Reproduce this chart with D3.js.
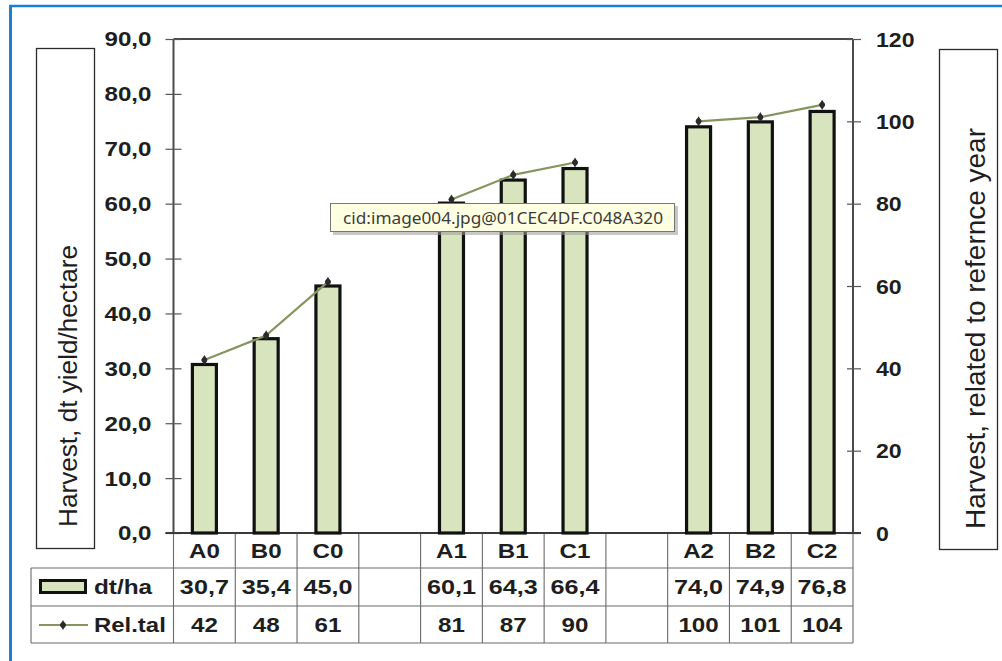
<!DOCTYPE html>
<html>
<head>
<meta charset="utf-8">
<script src="https://cdn.jsdelivr.net/npm/d3@7"></script>
<style>
  html, body { margin: 0; padding: 0; background: #fff; }
  svg { display: block; }
</style>
</head>
<body>
<svg id="chart" width="1002" height="661"></svg>
<script>
// Categories (null = empty spacer slot between the groups)
const categories = ["A0", "B0", "C0", null, "A1", "B1", "C1", null, "A2", "B2", "C2"];
// Harvest in dt/ha
const yieldValues = [30.7, 35.4, 45.0, null, 60.1, 64.3, 66.4, null, 74.0, 74.9, 76.8];
// Harvest relative to the reference year
const relValues = [42, 48, 61, null, 81, 87, 90, null, 100, 101, 104];
// Axis ticks
const leftTicks = [0, 10, 20, 30, 40, 50, 60, 70, 80, 90];
const rightTicks = [0, 20, 40, 60, 80, 100, 120];
// Labels
const leftTitle = "Harvest, dt yield/hectare";
const rightTitle = "Harvest, related to refernce year";
const seriesNames = ["dt/ha", "Rel.tal"];
const tooltipText = "cid:image004.jpg@01CEC4DF.C048A320";

const svg = d3.select("#chart");
const FONT = "'Liberation Sans', Arial, sans-serif";
const SX = 1.15;           // horizontal stretch of the label type
const BAR_FILL = "#d7e4bd";
const LINE_COL = "#86955f";
const TEXT_COL = "#1e1e1e";

const plot = { left: 173.5, right: 853, top: 39, bottom: 533 };
const rows = [533, 568, 606, 643];
const tableLeft = 31;

const x = d3.scaleBand().domain(d3.range(categories.length)).range([plot.left, plot.right]).padding(0);
const y = d3.scaleLinear().domain([0, 90]).range([plot.bottom, plot.top]);
const y2 = d3.scaleLinear().domain([0, 120]).range([plot.bottom, plot.top]);

// stretched bold label helper
function label(g, txt, px, py, anchor, opts = {}) {
  return g.append("text")
    .attr("transform", `translate(${px},${py}) scale(${opts.sx || SX},1)`)
    .attr("text-anchor", anchor)
    .attr("dominant-baseline", "central")
    .attr("font-family", FONT)
    .attr("font-weight", opts.weight || "bold")
    .attr("font-size", opts.size || 21)
    .attr("fill", TEXT_COL)
    .text(txt);
}

// series marker: small dark dot with a diamond point
function marker(g, px, py) {
  const m = g.append("g").attr("transform", `translate(${px},${py})`);
  m.append("path").attr("d", d3.symbol(d3.symbolDiamond, 30)).attr("fill", "#2b2b2b");
  m.append("circle").attr("r", 2.8).attr("fill", "#2b2b2b");
}

// blue frame (top and left edges)
svg.append("line").attr("x1", 10.5).attr("x2", 10.5).attr("y1", 5).attr("y2", 661)
  .attr("stroke", "#1c7fd6").attr("stroke-width", 3);
svg.append("line").attr("x1", 9).attr("x2", 1002).attr("y1", 6).attr("y2", 6)
  .attr("stroke", "#1c7fd6").attr("stroke-width", 2.5);

// axis title boxes
function titleBox(x0, y0, w, h, txt, bx, by, len, size) {
  svg.append("rect").attr("x", x0).attr("y", y0).attr("width", w).attr("height", h)
    .attr("fill", "#fff").attr("stroke", "#2a2a2a").attr("stroke-width", 1.3);
  svg.append("text")
    .attr("transform", `translate(${bx},${by}) rotate(-90)`)
    .attr("font-family", FONT).attr("font-size", size).attr("fill", TEXT_COL)
    .attr("textLength", len).attr("lengthAdjust", "spacingAndGlyphs")
    .text(txt);
}
titleBox(36.5, 48.5, 58, 500, leftTitle, 77, 527, 282, 26);
titleBox(939.5, 49.5, 58, 500, rightTitle, 985, 529, 401, 27);

// plot frame top line
svg.append("line").attr("x1", plot.left).attr("x2", plot.right).attr("y1", plot.top).attr("y2", plot.top)
  .attr("stroke", "#4a4a4a").attr("stroke-width", 2);

// left axis
const fmt = v => d3.format(".1f")(v).replace(".", ",");
const gL = svg.append("g").attr("transform", `translate(${plot.left},0)`)
  .call(d3.axisLeft(y).tickValues(leftTicks).tickFormat(fmt).tickSize(8).tickPadding(0));
gL.select(".domain").attr("stroke", "#4a4a4a").attr("stroke-width", 2).attr("d", `M0,${plot.top}V${plot.bottom}`);
gL.selectAll(".tick line").attr("x1", 8).attr("x2", -8).attr("stroke", "#555").attr("stroke-width", 1.2);
gL.selectAll(".tick text").remove();
gL.selectAll(".tick").each(function(d) {
  label(d3.select(this), fmt(d), -22, 0, "end");
});

// right axis
const gR = svg.append("g").attr("transform", `translate(${plot.right},0)`)
  .call(d3.axisRight(y2).tickValues(rightTicks).tickSize(7).tickPadding(0));
gR.select(".domain").attr("stroke", "#4a4a4a").attr("stroke-width", 2).attr("d", `M0,${plot.top}V${plot.bottom}`);
gR.selectAll(".tick line").attr("x1", -6).attr("x2", 8).attr("stroke", "#555").attr("stroke-width", 1.2);
gR.selectAll(".tick text").remove();
gR.selectAll(".tick").each(function(d) {
  label(d3.select(this), d, 23, 0, "start", { sx: 1.1 });
});

// data table grid
const grid = svg.append("g").attr("stroke", "#6a6a6a").attr("stroke-width", 1.1);
rows.slice(1).forEach(r => {
  grid.append("line").attr("x1", tableLeft).attr("x2", plot.right).attr("y1", r).attr("y2", r);
});
grid.append("line").attr("x1", tableLeft).attr("x2", tableLeft).attr("y1", rows[1]).attr("y2", rows[3]);
const bounds = x.domain().map(i => x(i)).concat([plot.right]);
bounds.forEach(bx => {
  grid.append("line").attr("x1", bx).attr("x2", bx).attr("y1", rows[0]).attr("y2", rows[3]);
});

// category axis line
svg.append("line").attr("x1", plot.left - 8).attr("x2", plot.right + 8).attr("y1", plot.bottom).attr("y2", plot.bottom)
  .attr("stroke", "#3a3a3a").attr("stroke-width", 2);

// bars
const barW = 24;
svg.append("g").selectAll("rect")
  .data(yieldValues.map((v, i) => ({ v, i })).filter(d => d.v != null))
  .join("rect")
  .attr("x", d => x(d.i) + x.bandwidth() / 2 - barW / 2)
  .attr("y", d => y(d.v))
  .attr("width", barW)
  .attr("height", d => y(0) - y(d.v))
  .attr("fill", BAR_FILL)
  .attr("stroke", "#111")
  .attr("stroke-width", 3.2);

// relative line
const lineGen = d3.line()
  .defined(d => d.v != null)
  .x(d => x(d.i) + x.bandwidth() / 2)
  .y(d => y2(d.v));
const relPts = relValues.map((v, i) => ({ v, i }));
svg.append("path").datum(relPts).attr("d", lineGen)
  .attr("fill", "none").attr("stroke", LINE_COL).attr("stroke-width", 2.2);
const gM = svg.append("g");
relPts.filter(d => d.v != null).forEach(d => marker(gM, x(d.i) + x.bandwidth() / 2, y2(d.v)));

// table text
const rowMid = [551, 587, 625];
categories.forEach((c, i) => {
  if (c == null) return;
  const cx = x(i) + x.bandwidth() / 2;
  label(svg, c, cx, rowMid[0], "middle");
  label(svg, fmt(yieldValues[i]), cx, rowMid[1], "middle", { sx: 1.2 });
  label(svg, relValues[i], cx, rowMid[2], "middle");
});

// legend keys in the row headers
svg.append("rect").attr("x", 40.5).attr("y", 580.5).attr("width", 45).attr("height", 12)
  .attr("fill", BAR_FILL).attr("stroke", "#111").attr("stroke-width", 3);
label(svg, seriesNames[0], 94, rowMid[1], "start", { sx: 1.16 });
svg.append("line").attr("x1", 39).attr("x2", 88).attr("y1", 625).attr("y2", 625)
  .attr("stroke", LINE_COL).attr("stroke-width", 2.2);
marker(svg, 63, 625);
label(svg, seriesNames[1], 94, rowMid[2], "start", { sx: 1.14 });

// hover tooltip
const tip = svg.append("g").attr("transform", "translate(330,203)");
tip.append("rect").attr("x", 3).attr("y", 3).attr("width", 345).attr("height", 29)
  .attr("fill", "#9a9a9a").attr("opacity", 0.55);
tip.append("rect").attr("x", 0.5).attr("y", 0.5).attr("width", 344).attr("height", 28)
  .attr("fill", "#ffffe1").attr("stroke", "#767676").attr("stroke-width", 1);
tip.append("text").attr("x", 13).attr("y", 15).attr("dominant-baseline", "central")
  .attr("font-family", "'Noto Sans', 'Open Sans', sans-serif").attr("font-size", 16)
  .attr("fill", "#3c3c3c").attr("textLength", 320).attr("lengthAdjust", "spacingAndGlyphs")
  .text(tooltipText);
</script>
</body>
</html>
